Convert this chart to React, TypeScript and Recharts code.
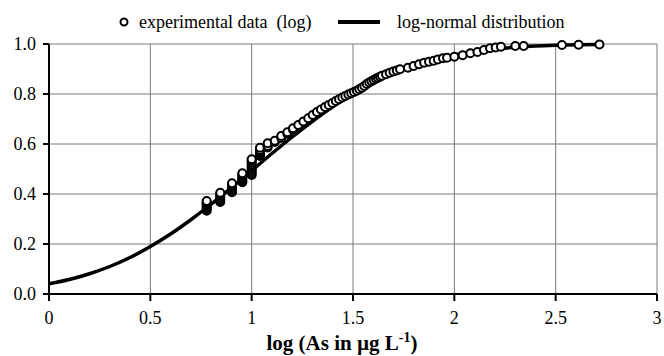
import React from "react";
import { ComposedChart, Line, Scatter, XAxis, YAxis, CartesianGrid } from "recharts";

// log-normal fit
const curveLog = [0, 0.1, 0.2, 0.3, 0.4, 0.5, 0.6, 0.7, 0.8, 0.9, 1.0, 1.1, 1.2, 1.3, 1.4, 1.5, 1.6, 1.7, 1.8, 1.9, 2.0, 2.1, 2.2, 2.3, 2.4, 2.5, 2.6, 2.72];
const curveCum = [0.041, 0.058, 0.081, 0.11, 0.146, 0.19, 0.24, 0.297, 0.359, 0.425, 0.493, 0.562, 0.628, 0.691, 0.749, 0.801, 0.846, 0.883, 0.913, 0.937, 0.956, 0.97, 0.98, 0.987, 0.992, 0.995, 0.997, 0.998];

// experimental data (log As, cumulative frequency)
const expLog = [
  0.778, 0.778, 0.778, 0.778, 0.778, 0.778, 0.778, 0.778,
  0.845, 0.845, 0.845, 0.845, 0.845, 0.845, 0.845,
  0.903, 0.903, 0.903, 0.903, 0.903, 0.903, 0.903,
  0.954, 0.954, 0.954, 0.954, 0.954, 0.954, 0.954,
  1.0, 1.0, 1.0, 1.0, 1.0, 1.0, 1.0, 1.0, 1.0, 1.0, 1.0,
  1.041, 1.041, 1.041, 1.041, 1.041, 1.041,
  1.079, 1.079, 1.079, 1.114, 1.114, 1.146, 1.146, 1.176, 1.176, 1.204, 1.204,
  1.23, 1.255, 1.279, 1.301, 1.322, 1.342, 1.362, 1.38, 1.398, 1.415, 1.431, 1.447, 1.462, 1.477, 1.491,
  1.505, 1.519, 1.531, 1.544, 1.556, 1.568, 1.58, 1.591, 1.602, 1.613, 1.623, 1.633, 1.643, 1.663, 1.681,
  1.699, 1.716, 1.732, 1.771, 1.799, 1.826, 1.851, 1.875, 1.898, 1.919, 1.944, 1.964, 2.0, 2.041, 2.079,
  2.114, 2.146, 2.176, 2.204, 2.23, 2.301, 2.342, 2.531, 2.613, 2.716,
];
const expCum = [
  0.333, 0.339, 0.345, 0.351, 0.357, 0.362, 0.367, 0.372,
  0.368, 0.374, 0.380, 0.387, 0.393, 0.399, 0.405,
  0.407, 0.413, 0.419, 0.425, 0.431, 0.437, 0.443,
  0.447, 0.453, 0.459, 0.465, 0.471, 0.477, 0.483,
  0.476, 0.483, 0.490, 0.497, 0.504, 0.511, 0.518, 0.525, 0.532, 0.536, 0.539,
  0.552, 0.558, 0.564, 0.570, 0.576, 0.585,
  0.586, 0.592, 0.603, 0.608, 0.613, 0.624, 0.632, 0.641, 0.647, 0.657, 0.663,
  0.676, 0.69, 0.703, 0.716, 0.728, 0.738, 0.748, 0.756, 0.764, 0.772, 0.779, 0.786, 0.792, 0.798, 0.803,
  0.808, 0.813, 0.819, 0.825, 0.832, 0.84, 0.846, 0.851, 0.856, 0.861, 0.865, 0.869, 0.873, 0.879, 0.885,
  0.89, 0.894, 0.899, 0.905, 0.912, 0.919, 0.925, 0.929, 0.933, 0.938, 0.943, 0.945, 0.949, 0.955, 0.963,
  0.968, 0.976, 0.983, 0.986, 0.989, 0.992, 0.992, 0.996, 0.997, 0.998,
];

const xTicks = [0, 0.5, 1, 1.5, 2, 2.5, 3];
const yTicks = [0, 0.2, 0.4, 0.6, 0.8, 1.0];

const curveData = curveLog.map((x, i) => ({ x, y: curveCum[i] }));
const expData = expLog.map((x, i) => ({ x, y: expCum[i] }));

const FONT = '"Liberation Serif", "Times New Roman", serif';
const serif = { fontFamily: FONT };

function Dot(props: any) {
  const { cx, cy } = props;
  return <circle cx={cx} cy={cy} r={4} fill="#fff" stroke="#000" strokeWidth={2} />;
}

function XTick(props: any) {
  const { x, y, payload } = props;
  return (
    <text x={x} y={y + 19} textAnchor="middle" fontSize={18} fill="#000" style={serif}>
      {String(payload.value)}
    </text>
  );
}

function YTick(props: any) {
  const { x, y, payload } = props;
  return (
    <text x={x} y={y + 6} textAnchor="end" fontSize={18} fill="#000" style={serif}>
      {Number(payload.value).toFixed(1)}
    </text>
  );
}

function LegendBox() {
  return (
    <g>
      <circle cx={124} cy={22} r={3.5} fill="#fff" stroke="#000" strokeWidth={2} />
      <text x={139} y={28} fontSize={18} fill="#000" style={{ ...serif, whiteSpace: "pre" }}>
        experimental data  (log)
      </text>
      <line x1={338} x2={380} y1={22} y2={22} stroke="#000" strokeWidth={4} />
      <text x={397} y={28} fontSize={18} fill="#000" style={serif}>
        log-normal distribution
      </text>
    </g>
  );
}

function XLabel() {
  return (
    <text x={342} y={350} textAnchor="middle" fontSize={21} fontWeight="bold" fill="#000" style={serif}>
      log (As in µg L
      <tspan dy={-8} fontSize={14}>-1</tspan>
      <tspan dy={8}>)</tspan>
    </text>
  );
}

export default function App() {
  return (
    <div style={{ position: "absolute", left: 0, top: 0, width: 664, height: 356, background: "#fff" }}>
      <ComposedChart width={664} height={356} margin={{ top: 44, right: 7, bottom: 32, left: 0 }}>
        <CartesianGrid stroke="#7a7a7a" strokeWidth={1} vertical horizontal />
        <XAxis
          type="number"
          dataKey="x"
          domain={[0, 3]}
          ticks={xTicks}
          height={30}
          allowDataOverflow
          axisLine={{ stroke: "#000", strokeWidth: 2 }}
          tickLine={{ stroke: "#000", strokeWidth: 2 }}
          tickSize={7}
          tickMargin={4}
          tick={<XTick />}
        />
        <YAxis
          type="number"
          domain={[0, 1]}
          ticks={yTicks}
          width={49}
          axisLine={{ stroke: "#000", strokeWidth: 2 }}
          tickLine={{ stroke: "#000", strokeWidth: 2 }}
          tickSize={6}
          tickMargin={7}
          tick={<YTick />}
        />
        <Line
          data={curveData}
          dataKey="y"
          type="monotone"
          stroke="#000"
          strokeWidth={3.5}
          dot={false}
          activeDot={false}
          isAnimationActive={false}
        />
        <Scatter data={expData} dataKey="y" shape={<Dot />} isAnimationActive={false} />
        <LegendBox />
        <XLabel />
      </ComposedChart>
    </div>
  );
}
